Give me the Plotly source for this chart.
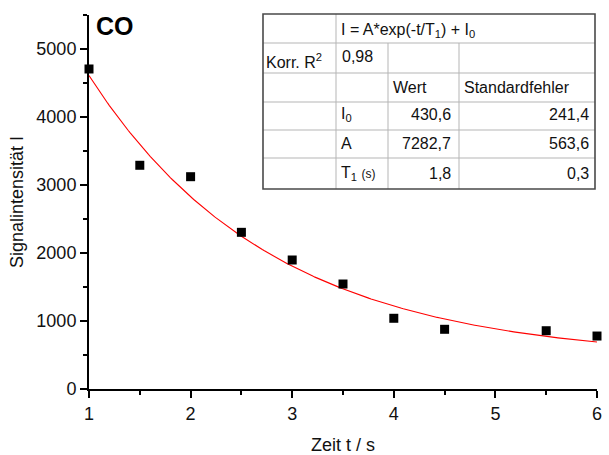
import numpy as np
import plotly.graph_objects as go

# Measured signal intensity of CO over time
t_s = [1.0, 1.5, 2.0, 2.5, 3.0, 3.5, 4.0, 4.5, 5.5, 6.0]
intensity = [4706, 3290, 3122, 2304, 1897, 1544, 1040, 878, 857, 779]

# Exponential fit parameters: I = A*exp(-t/T1) + I0
fit_I0, fit_I0_err = 430.6, 241.4
fit_A, fit_A_err = 7282.7, 563.6
fit_T1, fit_T1_err = 1.8, 0.3
adj_r2 = 0.98

x_ticks = [1, 2, 3, 4, 5, 6]
y_ticks = [0, 1000, 2000, 3000, 4000, 5000]

FONT = "Liberation Sans, Arial, sans-serif"
W, H = 609, 455
L, R, T, B = 89, 597, 15, 389  # plot area in pixels


def px(x):
    return (x - L) / (R - L)


def py(y):
    return (B - y) / (B - T)


def de(v, digits=1):
    return f"{v:.{digits}f}".replace(".", ",")


t_fit = np.linspace(1.0, 6.0, 300)
i_fit = fit_A * np.exp(-t_fit / fit_T1) + fit_I0

fig = go.Figure()
fig.add_trace(go.Scatter(
    x=t_fit, y=i_fit, mode="lines",
    line=dict(color="#ff0000", width=1.1),
    hoverinfo="skip", showlegend=False,
))
fig.add_trace(go.Scatter(
    x=t_s, y=intensity, mode="markers",
    marker=dict(symbol="square", size=9, color="black"),
    cliponaxis=False, showlegend=False,
))

axis_common = dict(
    showline=True, linecolor="black", linewidth=2,
    ticks="outside", ticklen=7, tickwidth=2, tickcolor="black",
    showgrid=False, zeroline=False,
    tickfont=dict(family=FONT, size=18, color="#111"),
    mirror=False,
)

fig.update_xaxes(
    range=[1, 6], tickvals=x_ticks,
    minor=dict(ticks="outside", ticklen=4, tickwidth=2, tickcolor="black", dtick=0.5, tick0=1),
    title=dict(text="Zeit t / s", font=dict(family=FONT, size=18, color="#111"), standoff=17),
    **axis_common,
)
fig.update_yaxes(
    range=[0, 5500], tickvals=y_ticks,
    minor=dict(ticks="outside", ticklen=4, tickwidth=2, tickcolor="black", dtick=500, tick0=0),
    title=dict(text="Signalintensität I", font=dict(family=FONT, size=18, color="#111"), standoff=8),
    **axis_common,
)

# Fit-result table
col_x = [263, 336, 388, 459, 595]
row_y = [14, 43, 73, 102, 130, 158, 189]
shapes = []
grid = dict(color="#b5b5b5", width=1)
for y in row_y[1:-1]:
    shapes.append(dict(type="line", xref="paper", yref="paper",
                       x0=px(col_x[0]), x1=px(col_x[-1]), y0=py(y), y1=py(y), line=grid))
shapes.append(dict(type="line", xref="paper", yref="paper",
                   x0=px(col_x[1]), x1=px(col_x[1]), y0=py(row_y[0]), y1=py(row_y[-1]), line=grid))
for x in col_x[2:4]:
    shapes.append(dict(type="line", xref="paper", yref="paper",
                       x0=px(x), x1=px(x), y0=py(row_y[1]), y1=py(row_y[-1]), line=grid))
shapes.append(dict(type="rect", xref="paper", yref="paper",
                   x0=px(col_x[0]), x1=px(col_x[-1]), y0=py(row_y[0]), y1=py(row_y[-1]),
                   line=dict(color="#4a4a4a", width=1.6)))

tf = dict(family=FONT, size=16, color="#111")
annotations = []


def cell(text, x, y, anchor="left"):
    annotations.append(dict(text=text, x=px(x), y=py(y), xref="paper", yref="paper",
                            xanchor=anchor, yanchor="middle", showarrow=False, font=tf))


cell("I = A*exp(-t/T<sub>1</sub>) + I<sub>0</sub>", 339, 30)
cell("Korr. R<sup>2</sup>", 264, 61)
cell(de(adj_r2, 2), 340, 56)
cell("Wert", 391, 87)
cell("Standardfehler", 462, 87)
cell("I<sub>0</sub>", 339, 115)
cell(de(fit_I0), 453, 115, "right")
cell(de(fit_I0_err), 591, 115, "right")
cell("A", 339, 143)
cell(de(fit_A), 453, 143, "right")
cell(de(fit_A_err), 591, 143, "right")
cell("T<sub>1</sub> <span style='font-size:12px'>(s)</span>", 339, 173)
cell(de(fit_T1), 453, 173, "right")
cell(de(fit_T1_err), 591, 173, "right")

# Panel label
annotations.append(dict(text="<b>CO</b>", x=px(94), y=py(26), xref="paper", yref="paper",
                        xanchor="left", yanchor="middle", showarrow=False,
                        font=dict(family=FONT, size=25, color="black")))

fig.update_layout(
    width=W, height=H,
    margin=dict(l=L, r=W - R, t=T, b=H - B, autoexpand=False),
    paper_bgcolor="white", plot_bgcolor="white",
    shapes=shapes, annotations=annotations,
    showlegend=False,
)

fig.write_html("out.html")
